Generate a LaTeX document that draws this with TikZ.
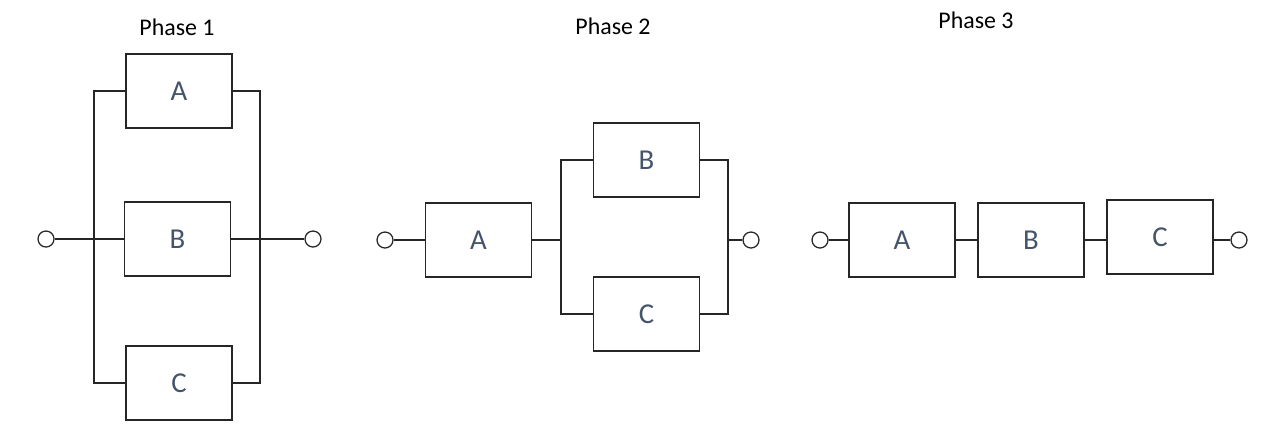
\documentclass[tikz,border=0pt]{standalone}
\usepackage{fontspec}
\setmainfont{Carlito}
\usetikzlibrary{positioning}
\definecolor{labelgray}{HTML}{44546A}
\definecolor{wiregray}{HTML}{262626}

\begin{document}
\begin{tikzpicture}[
  x=0.025cm, y=-0.025cm,
  block/.style={rectangle, draw=wiregray, line width=0.9pt, minimum width=2.65cm, minimum height=1.85cm, inner sep=0pt, text=labelgray, font=\fontsize{20.5}{24}\selectfont},
  term/.style={circle, draw=wiregray, line width=0.9pt, minimum size=0.4cm, inner sep=0pt, fill=white},
  wire/.style={draw=wiregray, line width=0.9pt},
  title/.style={font=\fontsize{17}{20}\selectfont}
]
  \useasboundingbox (0,0) rectangle (1263,437);

  % Phase 1: A, B, C in parallel
  \node[title] (t1) at (177,27) {Phase 1};
  \node[block] (p1a) at (179,91) {A};
  \node[block] (p1b) at (177.5,239) {B};
  \node[block] (p1c) at (179,383) {C};
  \node[term] (in1) at (46,239) {};
  \node[term] (out1) at (313,239) {};
  \coordinate (p1l) at (94,239);
  \coordinate (p1r) at (260,239);

  \draw[wire] (in1) -- (p1b);
  \draw[wire] (p1b) -- (out1);
  \draw[wire] (p1a.west) -| (p1l) |- (p1c.west);
  \draw[wire] (p1a.east) -| (p1r) |- (p1c.east);

  % Phase 2: A in series with B || C
  \node[title] (t2) at (613,26) {Phase 2};
  \node[term] (in2) at (385,240) {};
  \node[block] (p2a) at (478.5,240) {A};
  \node[block] (p2b) at (646.5,160) {B};
  \node[block] (p2c) at (646.5,314) {C};
  \node[term] (out2) at (751,240) {};
  \coordinate (p2l) at (561,240);
  \coordinate (p2r) at (728,240);

  \draw[wire] (in2) -- (p2a);
  \draw[wire] (p2a) -- (p2l);
  \draw[wire] (p2b.west) -| (p2l) |- (p2c.west);
  \draw[wire] (p2b.east) -| (p2r) |- (p2c.east);
  \draw[wire] (p2r) -- (out2);

  % Phase 3: A, B, C in series
  \node[title] (t3) at (976,20) {Phase 3};
  \node[term] (in3) at (820,240) {};
  \node[block] (p3a) at (902,240) {A};
  \node[block] (p3b) at (1031,240) {B};
  \node[block] (p3c) at (1160,237) {C};
  \node[term] (out3) at (1239,240) {};

  \draw[wire] (in3) -- (p3a);
  \draw[wire] (p3a) -- (p3b);
  \draw[wire] (p3b.east) -- (p3b.east -| p3c.west);
  \draw[wire] (p3c.east |- out3) -- (out3);
\end{tikzpicture}
\end{document}
